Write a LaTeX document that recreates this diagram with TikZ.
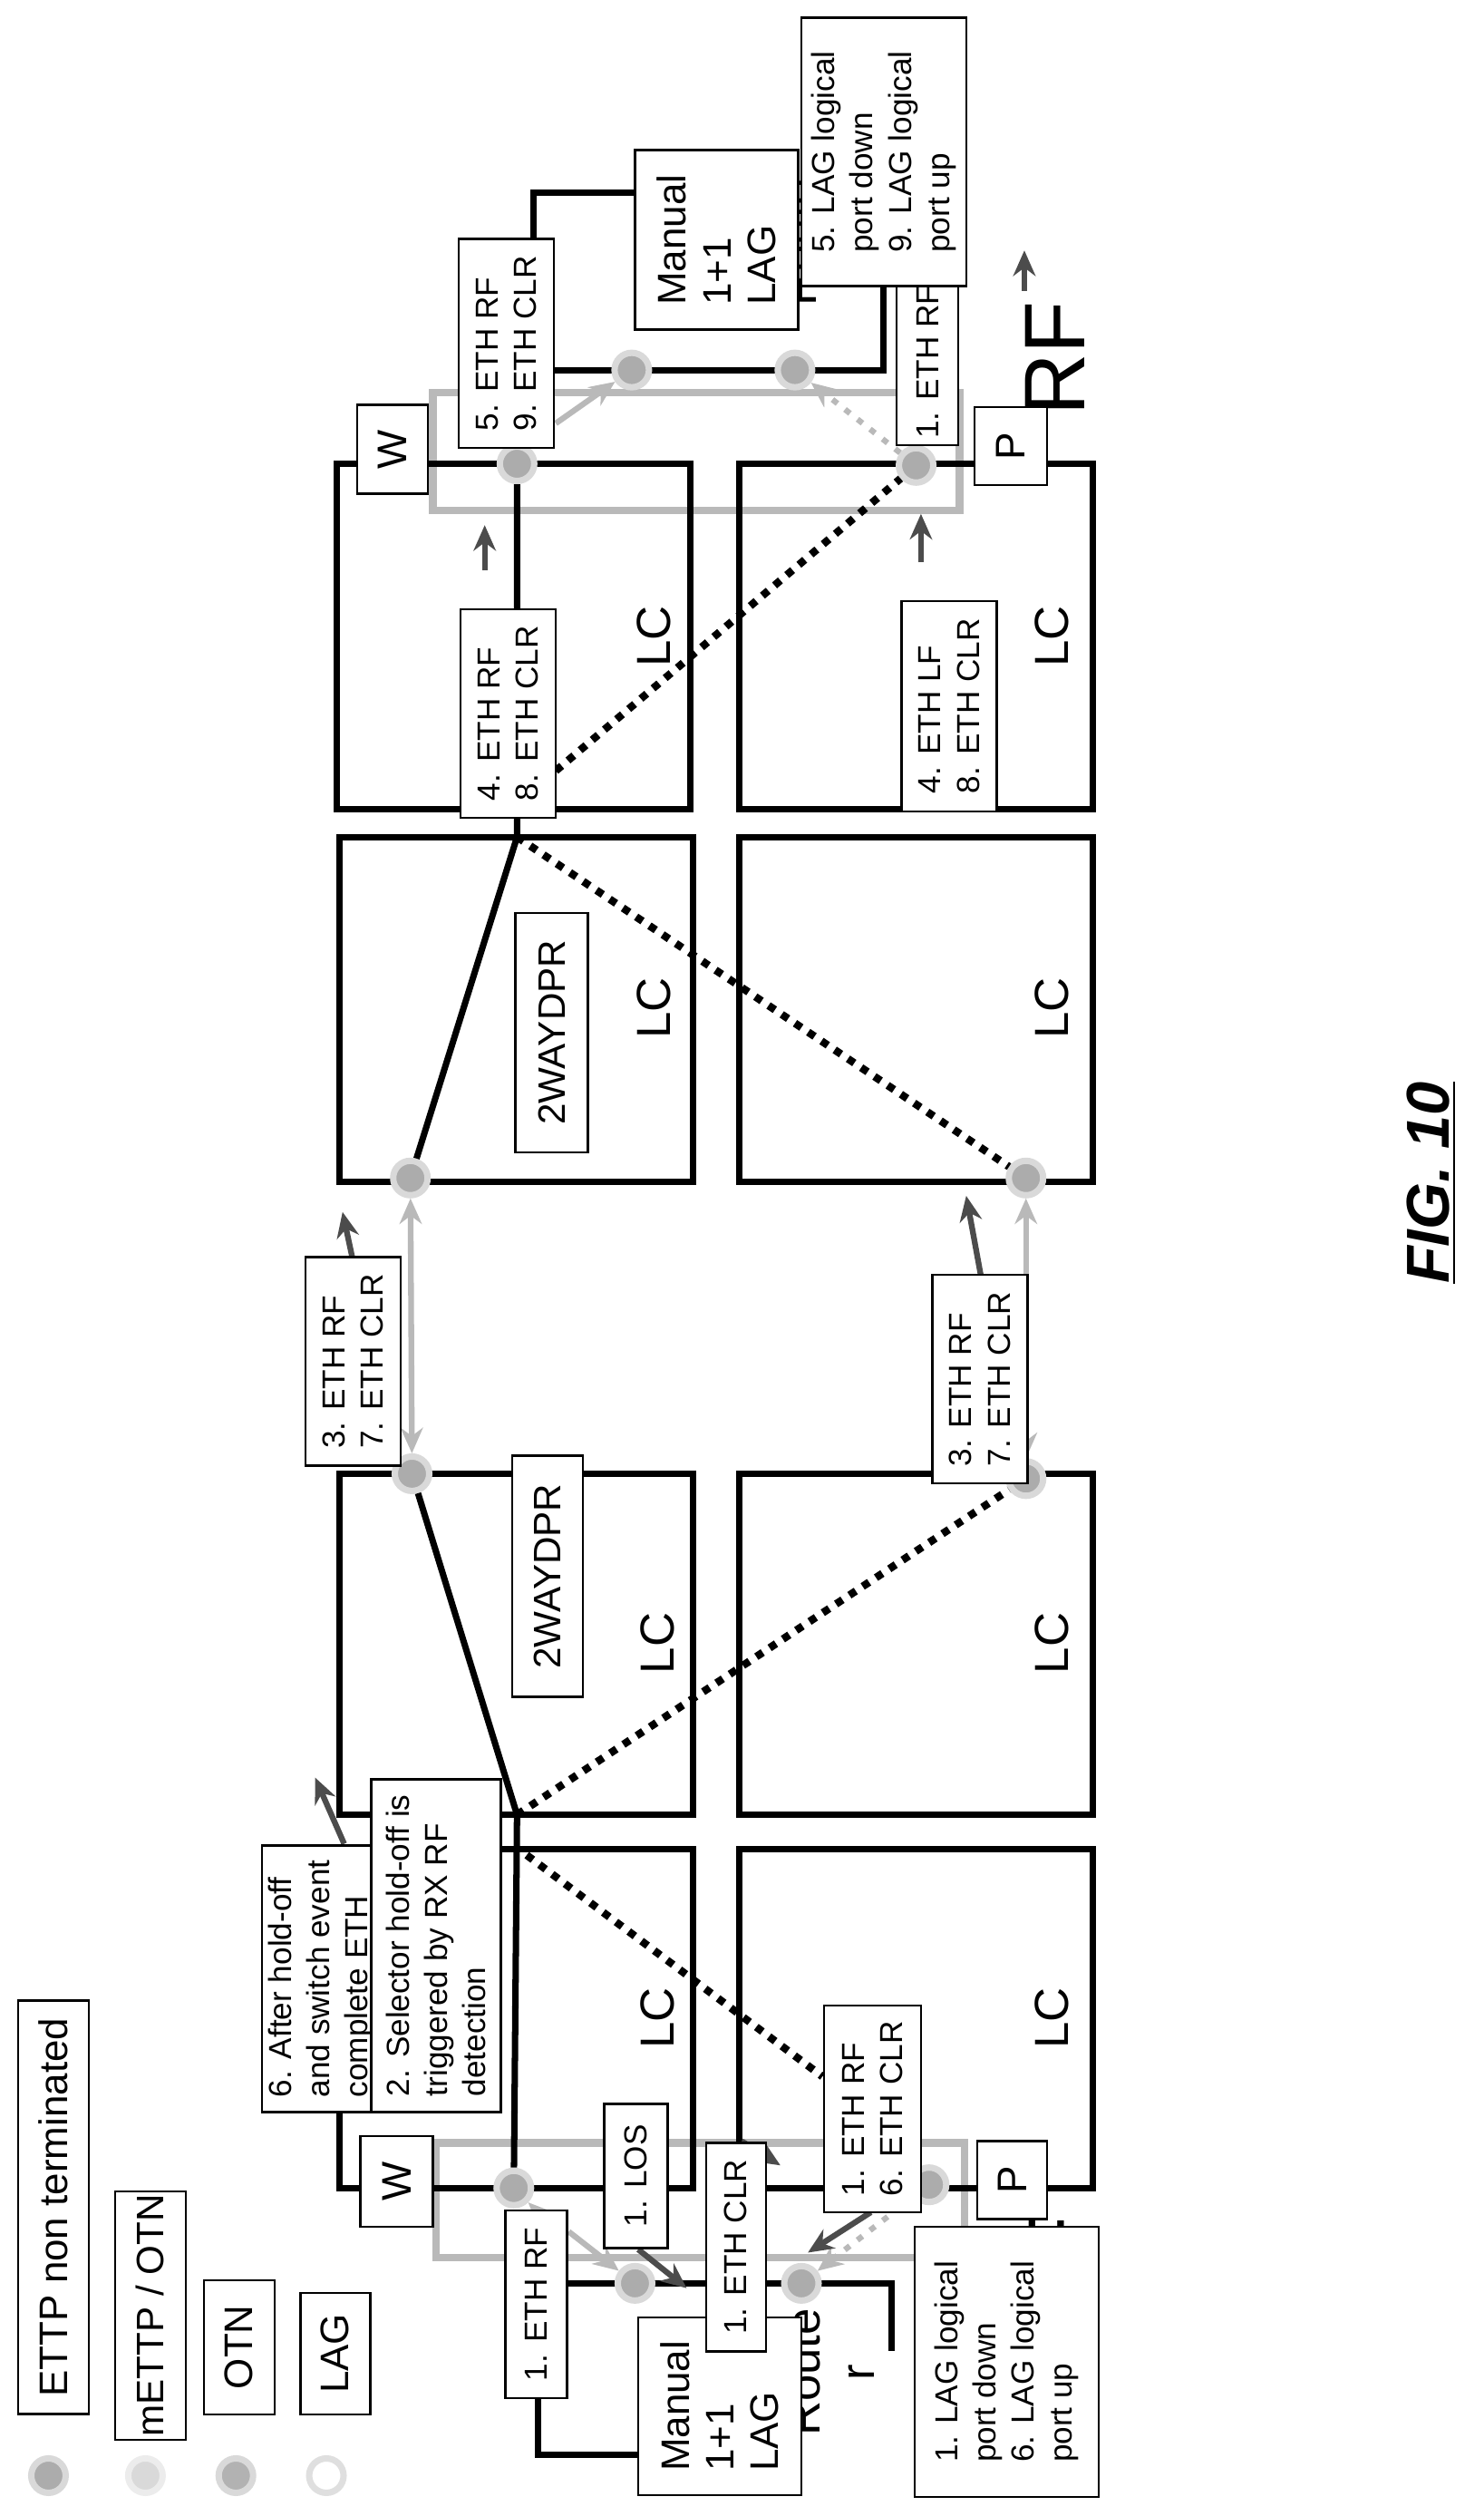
\documentclass[tikz,border=0pt]{standalone}
\usepackage{fontspec}
\setmainfont{Liberation Sans}
\usepackage{tikz}
\usetikzlibrary{arrows.meta}

\begin{document}
\begin{tikzpicture}[x=0.01782cm,y=-0.01782cm,
    card/.style={draw, line width=2pt, inner sep=0pt, minimum width=3.9cm},
    box/.style={draw, fill=white, line width=0.7pt, rotate=90, inner sep=2pt,
      align=left, font=\fontsize{10}{12}\selectfont},
    big/.style={rotate=90, font=\fontsize{15}{17}\selectfont},
    dot/.style={circle, fill=gray!65, draw=gray!30, line width=2pt, minimum size=0.38cm, inner sep=0pt},
    wire/.style={line width=2pt},
    lagline/.style={draw=gray!55, line width=2.4pt},
    dots/.style={line width=2.4pt, dash pattern=on 2.4pt off 2.6pt},
    darr/.style={draw=black!70, line width=1.8pt, -{Stealth[length=8pt,width=7pt]}},
    garr/.style={draw=gray!55, line width=1.8pt, -{Stealth[length=8pt,width=7pt]}}]
\useasboundingbox (0,0) rectangle (918,1557);

% LAG / OTN rings
\draw[lagline] (268,243) rectangle (594,316);
\draw[lagline] (270,1326) rectangle (597,1397);

% routers
\draw[wire] (392,119) -- (330,119) -- (330,229) -- (547,229) -- (547,176);
\draw[wire] (395,1519) -- (333,1519) -- (333,1413) -- (552,1413) -- (552,1455);
\node[big, align=center, font=\fontsize{15}{17}\selectfont] (rtT) at (512,150) {Route\\r};
\node[big, align=center, font=\fontsize{15}{17}\selectfont] (rtB) at (514,1468) {Route\\r};
\node[rotate=90, font=\fontsize{27}{29}\selectfont] (rfT) at (653,222) {RF};
\node[rotate=90, font=\fontsize{27}{29}\selectfont] (rfB) at (655,1407) {RF};

% line cards
\node[card, minimum height=3.81cm] (t1) at (318,394) {};
\node[card, minimum height=3.80cm] (t2) at (319.5,624.5) {};
\node[card, minimum height=3.76cm] (t3) at (319.5,1017.5) {};
\node[card, minimum height=3.74cm] (t4) at (319.5,1249) {};
\node[card, minimum height=3.81cm] (b1) at (567,394) {};
\node[card, minimum height=3.80cm] (b2) at (567,624.5) {};
\node[card, minimum height=3.76cm] (b3) at (567,1017.5) {};
\node[card, minimum height=3.74cm] (b4) at (567,1249) {};
\foreach \n/\x/\y in {t1/405/394, t2/405/624, t3/407/1017, t4/407/1249,
                      b1/651/394, b2/651/624, b3/651/1017, b4/651/1249}
  \node[big] (lc-\n) at (\x,\y) {LC};

% ports
\node[dot] (t1d) at (320,287) {};
\node[dot] (b1d) at (567,288) {};
\node[dot] (t2d) at (254,729) {};
\node[dot] (b2d) at (635,729) {};
\node[dot] (t3d) at (255,912) {};
\node[dot] (b3d) at (635,915) {};
\node[dot] (t4d) at (318,1354) {};
\node[dot] (b4d) at (575,1352) {};
\node[dot] (rT1) at (391,229) {};
\node[dot] (rT2) at (492,229) {};
\node[dot] (rB1) at (393,1413) {};
\node[dot] (rB2) at (496,1413) {};
\coordinate (t2in) at (320,518);
\coordinate (t3out) at (320,1123);

% working path and cross-connects
\draw[wire] (t1d) -- (t2in) -- (t2d);
\draw[wire] (t3d) -- (t3out) -- (t4d);
\draw[dots] (t2in) -- (b2d);
\draw[dots] (t3out) -- (b3d);
\draw[dots] (344,477) -- (b1d);
\draw[dots] (326,1148) -- (509,1285);

% notifications
\draw[garr, {Stealth[length=8pt,width=7pt]}-{Stealth[length=8pt,width=7pt]}] (t2d) -- (t3d);
\draw[garr, {Stealth[length=8pt,width=7pt]}-{Stealth[length=8pt,width=7pt]}] (b2d) -- (b3d);
\draw[garr] (344,262) -- (rT1);
\draw[garr, dash pattern=on 2pt off 3pt] (b1d) -- (rT2);
\draw[garr] (352,1381) -- (rB1);
\draw[garr, dash pattern=on 2pt off 3pt] (b4d) -- (rB2);
\draw[garr] (334,1370) -- (t4d);
\draw[darr] (315,148) -- (331,170);
\draw[darr] (300,353) -- (300,325);
\draw[darr] (570,348) -- (570,318);
\draw[darr] (634,180) -- (634,155);
\draw[darr] (218,778) -- (212,750);
\draw[darr] (607,789) -- (598,740);
\draw[darr] (213,1141) -- (195,1100);
\draw[darr] (395,1392) -- (425,1416);
\draw[darr] (459,1325) -- (483,1340);
\draw[darr] (539,1369) -- (500,1394);

% labels
\node[box, font=\fontsize{13}{15}\selectfont, minimum width=0.98cm, minimum height=0.78cm] (wT) at (243,278) {W};
\node[box, font=\fontsize{13}{15}\selectfont, minimum width=0.86cm, minimum height=0.80cm] (pT) at (625.5,276) {P};
\node[box, font=\fontsize{13}{15}\selectfont, minimum width=1.00cm, minimum height=0.80cm] (wB) at (245.5,1350) {W};
\node[box, font=\fontsize{13}{15}\selectfont, minimum width=0.86cm, minimum height=0.77cm] (pB) at (626.5,1349) {P};
\node[box, minimum width=1.71cm, minimum height=0.68cm] (ethT) at (574,224) {1. ETH RF};
\node[box, font=\fontsize{12.5}{14}\selectfont, minimum width=1.98cm, minimum height=1.80cm] (lagT) at (443.5,148.5) {Manual\\1+1\\LAG};
\node[box, font=\fontsize{12.5}{14}\selectfont, minimum width=1.96cm, minimum height=1.80cm] (lagB) at (445.5,1489) {Manual\\1+1\\LAG};
\node[box, minimum width=2.96cm, minimum height=1.82cm] (portT) at (547,94) {5. LAG logical\\port down\\9. LAG logical\\port up};
\node[box, minimum width=2.30cm, minimum height=1.05cm] (ev5) at (313.5,212.5) {5. ETH RF\\9. ETH CLR};
\node[box, minimum width=2.30cm, minimum height=1.05cm] (ev4w) at (314.5,441.5) {4. ETH RF\\8. ETH CLR};
\node[box, minimum width=2.32cm, minimum height=1.05cm] (ev4p) at (587.5,437) {4. ETH LF\\8. ETH CLR};
\node[box, font=\fontsize{12}{14}\selectfont, minimum width=2.64cm, minimum height=0.80cm] (dpr1) at (341.5,639) {2WAYDPR};
\node[box, font=\fontsize{12}{14}\selectfont, minimum width=2.66cm, minimum height=0.78cm] (dpr2) at (339,975.5) {2WAYDPR};
\node[box, minimum width=2.30cm, minimum height=1.05cm] (ev3w) at (218.5,842.5) {3. ETH RF\\7. ETH CLR};
\node[box, minimum width=2.30cm, minimum height=1.05cm] (ev3p) at (606.5,853.5) {3. ETH RF\\7. ETH CLR};
\node[box, minimum width=2.94cm, minimum height=1.21cm] (ev6) at (199,1224.5) {6. After hold-off\\and switch event\\complete ETH};
\node[box, minimum width=3.67cm, minimum height=1.43cm] (ev2) at (270,1204) {2. Selector hold-off is\\triggered by RX RF\\detection};
\node[box, minimum width=2.07cm, minimum height=0.68cm] (ev1a) at (332,1426) {1. ETH RF};
\node[box, minimum width=1.59cm, minimum height=0.70cm] (ev1b) at (393.5,1346.5) {1. LOS};
\node[box, minimum width=2.30cm, minimum height=0.66cm] (ev1c) at (455.5,1390.5) {1. ETH CLR};
\node[box, minimum width=2.28cm, minimum height=1.07cm] (ev1d) at (540,1305) {1. ETH RF\\6. ETH CLR};
\node[box, minimum width=2.98cm, minimum height=2.03cm] (portB) at (623,1461.5) {1. LAG logical\\port down\\6. LAG logical\\port up};

% legend
\node[box, font=\fontsize{12.5}{15}\selectfont, minimum width=4.56cm, minimum height=0.78cm] (lg1) at (33,1366) {ETTP non terminated};
\node[box, font=\fontsize{12}{15}\selectfont, inner sep=1pt, minimum width=2.17cm, minimum height=0.78cm] (lg2) at (93,1433) {mETTP / OTN};
\node[box, font=\fontsize{12.5}{15}\selectfont, minimum width=1.48cm, minimum height=0.78cm] (lg3) at (148,1452.5) {OTN};
\node[box, font=\fontsize{12.5}{15}\selectfont, minimum width=1.34cm, minimum height=0.77cm] (lg4) at (207.5,1456.5) {LAG};
\node[dot] (ld1) at (30,1532) {};
\node[dot, fill=gray!30, draw=gray!15] (ld2) at (90,1532) {};
\node[dot, fill=gray!60] (ld3) at (146,1532) {};
\node[dot, fill=white, draw=gray!25] (ld4) at (202,1532) {};

\node[rotate=90, font=\fontsize{19}{21}\selectfont\bfseries\itshape] (fig) at (886,732) {\underline{FIG. 10}};
\end{tikzpicture}
\end{document}
